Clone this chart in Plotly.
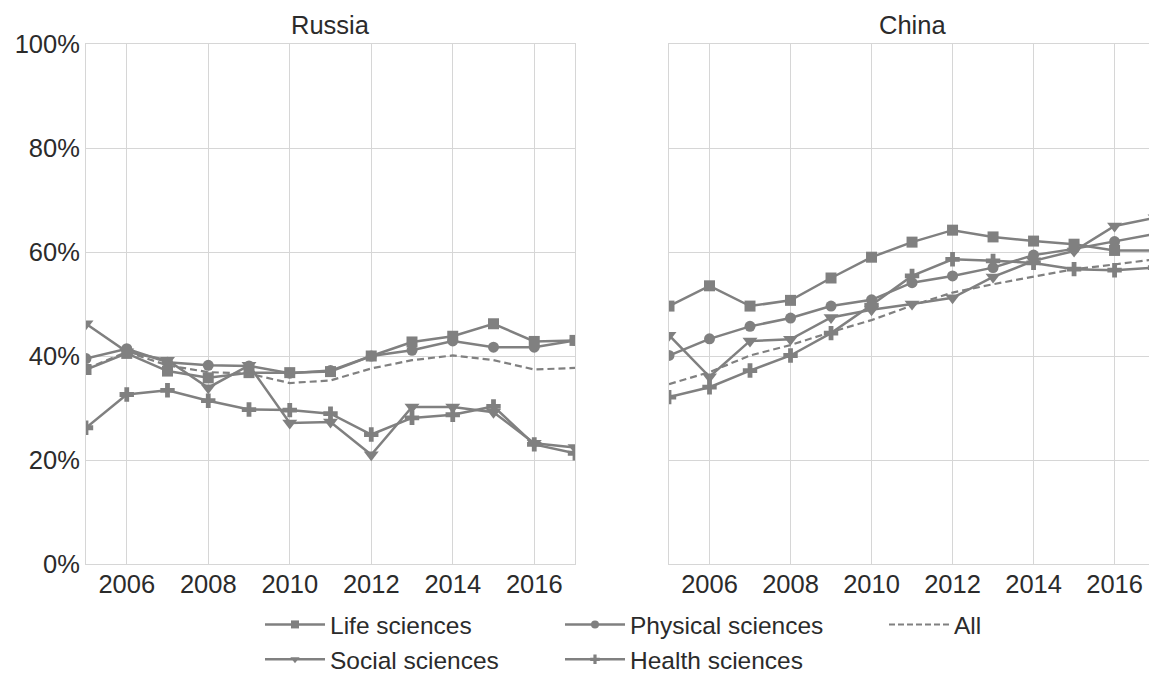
import plotly.graph_objects as go

years = list(range(2005, 2018))

# Russia
ru_life = [37.4, 40.5, 37.1, 35.8, 36.8, 36.8, 37.0, 40.0, 42.7, 43.8, 46.2, 42.8, 43.0]
ru_phys = [39.5, 41.4, 38.8, 38.2, 38.1, 36.7, 37.2, 40.0, 41.1, 42.9, 41.7, 41.7, 43.0]
ru_soc = [46.2, 40.8, 39.2, 33.9, 38.2, 27.1, 27.3, 21.0, 30.2, 30.2, 29.2, 23.2, 22.4]
ru_health = [26.2, 32.6, 33.4, 31.4, 29.7, 29.6, 28.9, 24.9, 28.1, 28.7, 30.3, 23.0, 21.3]
ru_all = [37.5, 40.8, 38.2, 36.9, 36.6, 34.8, 35.3, 37.6, 39.2, 40.1, 39.2, 37.4, 37.7]

# China
cn_life = [49.6, 53.5, 49.6, 50.7, 55.0, 59.0, 61.9, 64.2, 62.9, 62.1, 61.5, 60.3, 60.3]
cn_phys = [40.1, 43.3, 45.7, 47.3, 49.6, 50.8, 54.1, 55.4, 57.0, 59.4, 60.6, 62.0, 63.5]
cn_soc = [44.0, 36.0, 42.9, 43.2, 47.4, 48.9, 50.0, 51.2, 55.2, 58.3, 60.2, 65.0, 66.6]
cn_health = [32.1, 34.0, 37.2, 40.1, 44.4, 49.8, 55.4, 58.6, 58.3, 57.9, 56.7, 56.5, 57.0]
cn_all = [34.6, 36.9, 40.1, 42.1, 44.6, 46.9, 49.7, 52.2, 53.8, 55.2, 56.7, 57.6, 58.6]

panels = ["Russia", "China"]
series_names = ["Life sciences", "Social sciences", "Physical sciences", "Health sciences", "All"]
y_ticks = [0, 20, 40, 60, 80, 100]
y_labels = ["0%", "20%", "40%", "60%", "80%", "100%"]
x_ticks = [2006, 2008, 2010, 2012, 2014, 2016]

GRAY = "#808080"
GRID = "#d6d6d6"
TXT = "#2b2b2b"
FONT = "Liberation Sans, Arial, sans-serif"
FS = 25.5
LFS = 24.5

styles = {
    "Life sciences": dict(symbol="square", size=11, dash="solid"),
    "Social sciences": dict(symbol="triangle-down", size=13, dash="solid"),
    "Physical sciences": dict(symbol="circle", size=11, dash="solid"),
    "Health sciences": dict(symbol="cross", size=12, dash="solid"),
    "All": dict(symbol=None, size=0, dash="dash"),
}

data = {
    "Russia": [ru_life, ru_soc, ru_phys, ru_health, ru_all],
    "China": [cn_life, cn_soc, cn_phys, cn_health, cn_all],
}

fig = go.Figure()
for pi, panel in enumerate(panels):
    xa = "x" if pi == 0 else "x2"
    ya = "y" if pi == 0 else "y2"
    for name, vals in zip(series_names, data[panel]):
        st = styles[name]
        if st["symbol"]:
            fig.add_trace(go.Scatter(
                x=years, y=vals, xaxis=xa, yaxis=ya, mode="lines+markers",
                line=dict(color=GRAY, width=2.5),
                marker=dict(symbol=st["symbol"], size=st["size"], color=GRAY),
                showlegend=False, name=name))
        else:
            fig.add_trace(go.Scatter(
                x=years, y=vals, xaxis=xa, yaxis=ya, mode="lines",
                line=dict(color=GRAY, width=2.2, dash="7px,4px"),
                showlegend=False, name=name))

# legend entries (3 columns)
legend_cols = [["Life sciences", "Social sciences"], ["Physical sciences", "Health sciences"], ["All"]]
legend_ids = ["legend", "legend2", "legend3"]
for cols, lid in zip(legend_cols, legend_ids):
    for name in cols:
        st = styles[name]
        if st["symbol"]:
            fig.add_trace(go.Scatter(
                x=[None], y=[None], mode="lines+markers", name=name, legend=lid,
                line=dict(color=GRAY, width=2.5),
                marker=dict(symbol=st["symbol"], size=8, color=GRAY)))
        else:
            fig.add_trace(go.Scatter(
                x=[None], y=[None], mode="lines", name=name, legend=lid,
                line=dict(color=GRAY, width=2, dash="6px,3px")))

L, R, T, B = 86, 0, 44, 111
W = 1149 - L - R
H = 675 - T - B

def px2paper(px):
    return (px - L) / W

def py2paper(py):
    return (675 - B - py) / H

ax_common = dict(
    showgrid=True, gridcolor=GRID, gridwidth=1, zeroline=False,
    showline=True, linecolor=GRID, linewidth=1, mirror=True,
    ticks="", tickfont=dict(size=FS, color=TXT, family=FONT),
)

legend_common = dict(
    orientation="v", yanchor="top", y=py2paper(602), xanchor="left",
    font=dict(size=LFS, color=TXT, family=FONT), bgcolor="rgba(0,0,0,0)",
    tracegroupgap=0, itemwidth=60,
)

fig.update_layout(
    width=1149, height=675,
    margin=dict(l=L, r=R, t=T, b=B, autoexpand=False),
    paper_bgcolor="white", plot_bgcolor="white",
    font=dict(family=FONT, color=TXT),
    xaxis=dict(domain=[0, px2paper(575)], range=[2005, 2017], tickvals=x_ticks,
               ticklabelstandoff=-3, **ax_common),
    xaxis2=dict(domain=[px2paper(669), 1.0], range=[2005, 2016.85], tickvals=x_ticks,
                ticklabelstandoff=-3, **ax_common),
    yaxis=dict(range=[0, 100], tickvals=y_ticks, ticktext=y_labels, anchor="x", **ax_common),
    yaxis2=dict(range=[0, 100], tickvals=y_ticks, showticklabels=False, anchor="x2",
                **{k: v for k, v in ax_common.items() if k != "tickfont"}),
    legend=dict(x=px2paper(260), **legend_common),
    legend2=dict(x=px2paper(560), **legend_common),
    legend3=dict(x=px2paper(884), **legend_common),
    showlegend=True,
    annotations=[
        dict(text="Russia", xref="x", x=2011, yref="paper", y=1.0, yshift=3,
             yanchor="bottom", showarrow=False, font=dict(size=FS, color=TXT, family=FONT)),
        dict(text="China", xref="x2", x=2011, yref="paper", y=1.0, yshift=3,
             yanchor="bottom", showarrow=False, font=dict(size=FS, color=TXT, family=FONT)),
    ],
)

fig.write_html("out.html", config={"displayModeBar": False},
               post_script="document.body.style.margin='0';document.body.style.overflow='hidden';")
